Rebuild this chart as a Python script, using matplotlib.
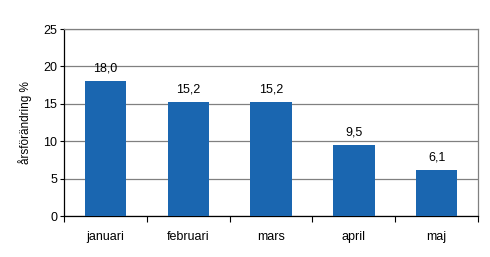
import numpy as np
import matplotlib.pyplot as plt

plt.rcParams['font.family'] = ['Liberation Sans', 'DejaVu Sans']

# Data
months = ['januari', 'februari', 'mars', 'april', 'maj']
change = [18.0, 15.2, 15.2, 9.5, 6.1]
ticks_y = [0, 5, 10, 15, 20, 25]

x = np.arange(len(months))

fig = plt.figure(figsize=(4.9, 2.57), dpi=100)
ax = fig.add_axes([0.1306, 0.1595, 0.845, 0.7275])

bars = ax.bar(x, change, width=0.5, color='#1a66b0', zorder=3)

# value labels with comma decimals
for xi, v in zip(x, change):
    ax.annotate(f'{v:.1f}'.replace('.', ','), (xi, v), xytext=(0, 5),
                textcoords='offset points', ha='center', va='bottom',
                fontsize=9)

ax.set_xlim(-0.5, len(months) - 0.5)
ax.set_ylim(0, 25)
ax.set_yticks(ticks_y)
ax.yaxis.grid(True, color='#808080', linewidth=0.9, zorder=0)

ax.set_xticks(x)
ax.set_xticklabels(months, fontsize=9)
ax.tick_params(axis='x', which='major', length=0, pad=11)
ax.set_xticks(np.arange(-0.5, len(months)), minor=True)
ax.tick_params(axis='x', which='minor', length=4, width=0.8, direction='out')
ax.tick_params(axis='y', length=3, width=0.8, pad=2, labelsize=9)

ax.set_ylabel('årsförändring %', fontsize=8.5, labelpad=8)

for s in ['left', 'bottom']:
    ax.spines[s].set_color('black')
    ax.spines[s].set_linewidth(0.9)
for s in ['top', 'right']:
    ax.spines[s].set_color('#808080')
    ax.spines[s].set_linewidth(0.9)

fig.savefig('out.png', dpi=100)
